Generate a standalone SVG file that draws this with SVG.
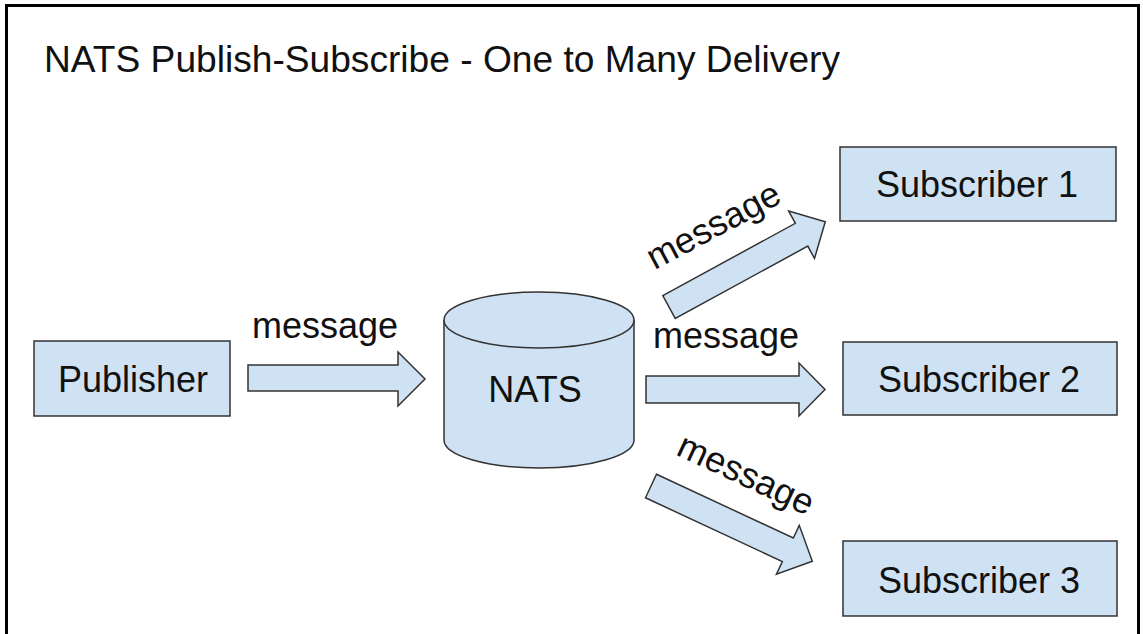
<svg xmlns="http://www.w3.org/2000/svg" width="1143" height="634" viewBox="0 0 1143 634">
<style>
.shape{fill:#cfe2f3;stroke:#333;stroke-width:1.5}
.t{font-family:"Liberation Sans",Arial,sans-serif;font-size:36px;fill:#111;text-anchor:middle}
</style>
<defs>
<path id="arr" d="M0,-13 L151,-13 L151,-27 L178,0 L151,27 L151,13 L0,13 Z"/>
</defs>
<rect width="1143" height="634" fill="#fff"/>
<rect x="6.5" y="5.5" width="1132" height="700" fill="none" stroke="#000" stroke-width="3"/>
<text x="44" y="72" font-family="Liberation Sans, Arial, sans-serif" font-size="36" fill="#111" textLength="796" lengthAdjust="spacingAndGlyphs">NATS Publish-Subscribe - One to Many Delivery</text>
<g id="publisher">
<rect class="shape" x="34" y="341" width="196" height="75"/>
<text class="t" x="133" y="392">Publisher</text>
</g>
<g id="nats">
<path class="shape" d="M444,320 L444,440 A95,28 0 0 0 634,440 L634,320"/>
<ellipse class="shape" cx="539" cy="320" rx="95" ry="28"/>
<text class="t" x="535" y="402">NATS</text>
</g>
<g id="sub1">
<rect class="shape" x="840" y="147" width="276" height="74"/>
<text class="t" x="977" y="197">Subscriber 1</text>
</g>
<g id="sub2">
<rect class="shape" x="843" y="342" width="274" height="73"/>
<text class="t" x="979" y="392">Subscriber 2</text>
</g>
<g id="sub3">
<rect class="shape" x="843" y="541" width="274" height="75"/>
<text class="t" x="979" y="593">Subscriber 3</text>
</g>
<g id="connectors">
<path class="shape" d="M248,365 L398,365 L398,352 L425,379 L398,406 L398,391 L248,391 Z"/>
<text class="t" x="325" y="338">message</text>
<path class="shape" d="M646,376 L799,376 L799,363 L825,389.5 L799,416 L799,403 L646,403 Z"/>
<text class="t" x="726" y="348">message</text>
<use href="#arr" class="shape" transform="translate(669,307) rotate(-28.6)"/>
<text class="t" transform="translate(719,236) rotate(-28)">message</text>
<use href="#arr" class="shape" transform="translate(651,486) rotate(25)"/>
<text class="t" transform="translate(741,485) rotate(25)">message</text>
</g>
</svg>
